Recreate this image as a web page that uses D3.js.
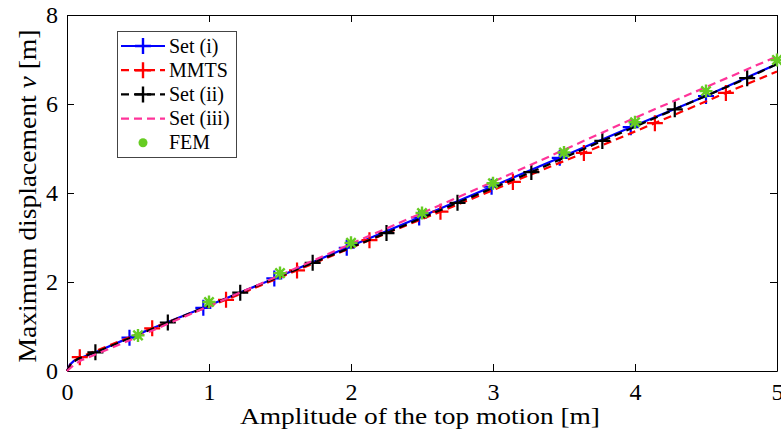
<!DOCTYPE html>
<html>
<head>
<meta charset="utf-8">
<script src="https://cdn.jsdelivr.net/npm/d3@7"></script>
<style>
  html, body { margin: 0; padding: 0; background: #fff; }
  svg { display: block; }
  text { font-family: "Liberation Serif", "Times New Roman", Times, "DejaVu Serif", "Noto Serif", serif; fill: #000; }
</style>
</head>
<body>
<svg id="chart" width="781" height="437"></svg>
<script>
// ---------------- data ----------------
const xTicks = [0, 1, 2, 3, 4, 5];
const yTicks = [0, 2, 4, 6, 8];

// Set (i): blue solid line with "+" markers
const setIX = [0, 0.02, 0.05, 0.1, 0.2, 0.44, 0.96, 1.46, 1.97, 2.48, 2.99, 3.47, 3.97, 4.5, 5];
const setIY = [0, 0.14, 0.23, 0.3, 0.42, 0.75, 1.42, 2.08, 2.77, 3.45, 4.14, 4.79, 5.48, 6.18, 6.9];
const setIMarkX = [0.44, 0.96, 1.46, 1.97, 2.48, 2.99, 3.47, 3.97, 4.5];
const setIMarkY = [0.75, 1.42, 2.08, 2.77, 3.45, 4.14, 4.79, 5.48, 6.18];

// MMTS: red dashed line with "+" markers
const mmtsX = [0, 0.03, 0.09, 0.6, 1.12, 1.62, 2.13, 2.63, 3.14, 3.64, 4.14, 4.64, 5];
const mmtsY = [0, 0.18, 0.31, 0.96, 1.6, 2.26, 2.94, 3.58, 4.25, 4.9, 5.57, 6.25, 6.73];
const mmtsMarkX = [0.09, 0.6, 1.12, 1.62, 2.13, 2.63, 3.14, 3.64, 4.14, 4.64];
const mmtsMarkY = [0.31, 0.96, 1.6, 2.26, 2.94, 3.58, 4.25, 4.9, 5.57, 6.25];

// Set (ii): black dashed line with "+" markers
const setIIX = [0, 0.03, 0.08, 0.2, 0.71, 1.22, 1.73, 2.25, 2.75, 3.27, 3.77, 4.28, 4.79, 5];
const setIIY = [0, 0.17, 0.28, 0.42, 1.09, 1.76, 2.43, 3.1, 3.78, 4.47, 5.17, 5.88, 6.58, 6.9];
const setIIMarkX = [0.2, 0.71, 1.22, 1.73, 2.25, 2.75, 3.27, 3.77, 4.28, 4.79];
const setIIMarkY = [0.42, 1.09, 1.76, 2.43, 3.1, 3.78, 4.47, 5.17, 5.88, 6.58];

// Set (iii): magenta dashed line
const setIIIX = [0, 0.05, 0.1, 0.2, 0.5, 1, 1.5, 2, 2.5, 3, 3.5, 4, 4.5, 5];
const setIIIY = [0, 0.14, 0.24, 0.37, 0.77, 1.46, 2.15, 2.86, 3.55, 4.25, 4.97, 5.69, 6.38, 7.07];

// FEM: green asterisks
const femX = [0.5, 1, 1.5, 2, 2.5, 3, 3.5, 4, 4.5, 5];
const femY = [0.8, 1.55, 2.2, 2.88, 3.55, 4.22, 4.91, 5.59, 6.29, 6.99];

const legendLabels = ["Set (i)", "MMTS", "Set (ii)", "Set (iii)", "FEM"];

// ---------------- layout ----------------
const FONT = "'Liberation Serif', 'Times New Roman', Times, 'DejaVu Serif', 'Noto Serif', serif";
const svg = d3.select("#chart");
const L = 67, R = 777, T = 15, B = 371;
const x = d3.scaleLinear().domain([0, 5]).range([L, R]);
const y = d3.scaleLinear().domain([0, 8]).range([B, T]);

const C = {
  blue: "#0000ff",
  red: "#ff0000",
  black: "#000000",
  magenta: "#ff3399",
  green: "#66cc22"
};

// ---------------- axes ----------------
const tickLen = 7;
const gx = svg.append("g").attr("transform", `translate(0,${B})`)
  .call(d3.axisBottom(x).tickValues(xTicks).tickFormat(d3.format("d")).tickSizeInner(-tickLen).tickSizeOuter(0).tickPadding(12));
const gxTop = svg.append("g").attr("transform", `translate(0,${T})`)
  .call(d3.axisTop(x).tickValues(xTicks).tickFormat("").tickSizeInner(-tickLen).tickSizeOuter(0));
const gy = svg.append("g").attr("transform", `translate(${L},0)`)
  .call(d3.axisLeft(y).tickValues(yTicks).tickFormat(d3.format("d")).tickSizeInner(-tickLen).tickSizeOuter(0).tickPadding(9));
const gyR = svg.append("g").attr("transform", `translate(${R},0)`)
  .call(d3.axisRight(y).tickValues(yTicks).tickFormat("").tickSizeInner(-tickLen).tickSizeOuter(0));

[gx, gxTop, gy, gyR].forEach(g => {
  g.attr("font-family", null);
  g.select(".domain").attr("stroke", "#000").attr("stroke-width", 1);
  g.selectAll(".tick line").attr("stroke", "#000").attr("stroke-width", 1);
  g.selectAll("text").style("font-family", FONT).style("font-size", "24px").attr("fill", "#000");
});

// ---------------- series ----------------
const plot = svg.append("g");
const lineGen = d3.line().x(d => x(d[0])).y(d => y(d[1]));
const zip = (a, b) => a.map((v, i) => [v, b[i]]);

function drawLine(xs, ys, color, dash) {
  plot.append("path")
    .datum(zip(xs, ys))
    .attr("d", lineGen)
    .attr("fill", "none")
    .attr("stroke", color)
    .attr("stroke-width", 2.2)
    .attr("stroke-dasharray", dash || null);
}
function plusPath(s) {
  return `M${-s},0H${s}M0,${-s}V${s}`;
}
function starPath(s) {
  const d = s * 0.72;
  return `M${-s},0H${s}M0,${-s}V${s}M${-d},${-d}L${d},${d}M${-d},${d}L${d},${-d}`;
}
function drawMarks(xs, ys, color, pathStr, sw) {
  plot.append("g").selectAll("path")
    .data(zip(xs, ys))
    .join("path")
    .attr("transform", d => `translate(${x(d[0])},${y(d[1])})`)
    .attr("d", pathStr)
    .attr("fill", "none")
    .attr("stroke", color)
    .attr("stroke-width", sw);
}

const dash = "8,5";
drawLine(setIX, setIY, C.blue, null);
drawMarks(setIMarkX, setIMarkY, C.blue, plusPath(8), 2.2);
drawLine(mmtsX, mmtsY, C.red, dash);
drawMarks(mmtsMarkX, mmtsMarkY, C.red, plusPath(8), 2.2);
drawLine(setIIX, setIIY, C.black, dash);
drawMarks(setIIMarkX, setIIMarkY, C.black, plusPath(8), 2.2);
drawLine(setIIIX, setIIIY, C.magenta, dash);
drawMarks(femX, femY, C.green, starPath(6.5), 2.4);

// ---------------- axis labels ----------------
svg.append("text")
  .attr("x", 420).attr("y", 424)
  .attr("text-anchor", "middle")
  .attr("textLength", 360).attr("lengthAdjust", "spacingAndGlyphs")
  .style("font-family", FONT)
  .style("font-size", "24px")
  .text("Amplitude of the top motion [m]");

const yl = svg.append("text")
  .attr("transform", `translate(36,196) rotate(-90)`)
  .attr("text-anchor", "middle")
  .attr("textLength", 333).attr("lengthAdjust", "spacingAndGlyphs")
  .style("font-family", FONT)
  .style("font-size", "25px");
yl.append("tspan").text("Maximum displacement ");
yl.append("tspan").style("font-style", "italic").text("v");
yl.append("tspan").text(" [m]");

// ---------------- legend ----------------
const lg = svg.append("g");
lg.append("rect")
  .attr("x", 117.5).attr("y", 31.5).attr("width", 119).attr("height", 126)
  .attr("fill", "#fff").attr("stroke", "#444").attr("stroke-width", 1);

const legendItems = [
  { color: C.blue, dash: null, marker: "plus" },
  { color: C.red, dash: dash, marker: "plus" },
  { color: C.black, dash: dash, marker: "plus" },
  { color: C.magenta, dash: dash, marker: null },
  { color: C.green, dash: null, marker: "dot" }
];
legendItems.forEach((it, i) => {
  const cy = 46 + i * 24.2;
  const g = lg.append("g");
  if (it.marker !== "dot") {
    g.append("line").attr("x1", 121).attr("x2", 165).attr("y1", cy).attr("y2", cy)
      .attr("stroke", it.color).attr("stroke-width", 2.2)
      .attr("stroke-dasharray", it.dash ? "8,5" : null);
  }
  if (it.marker === "plus") {
    g.append("path").attr("transform", `translate(143,${cy})`).attr("d", plusPath(8))
      .attr("stroke", it.color).attr("stroke-width", 2.4).attr("fill", "none");
  } else if (it.marker === "dot") {
    g.append("circle").attr("cx", 143).attr("cy", cy).attr("r", 4.5).attr("fill", it.color);
  }
  g.append("text").attr("x", 169).attr("y", cy + 6.5)
    .style("font-family", FONT)
    .style("font-size", "20px")
    .text(legendLabels[i]);
});
</script>
</body>
</html>
